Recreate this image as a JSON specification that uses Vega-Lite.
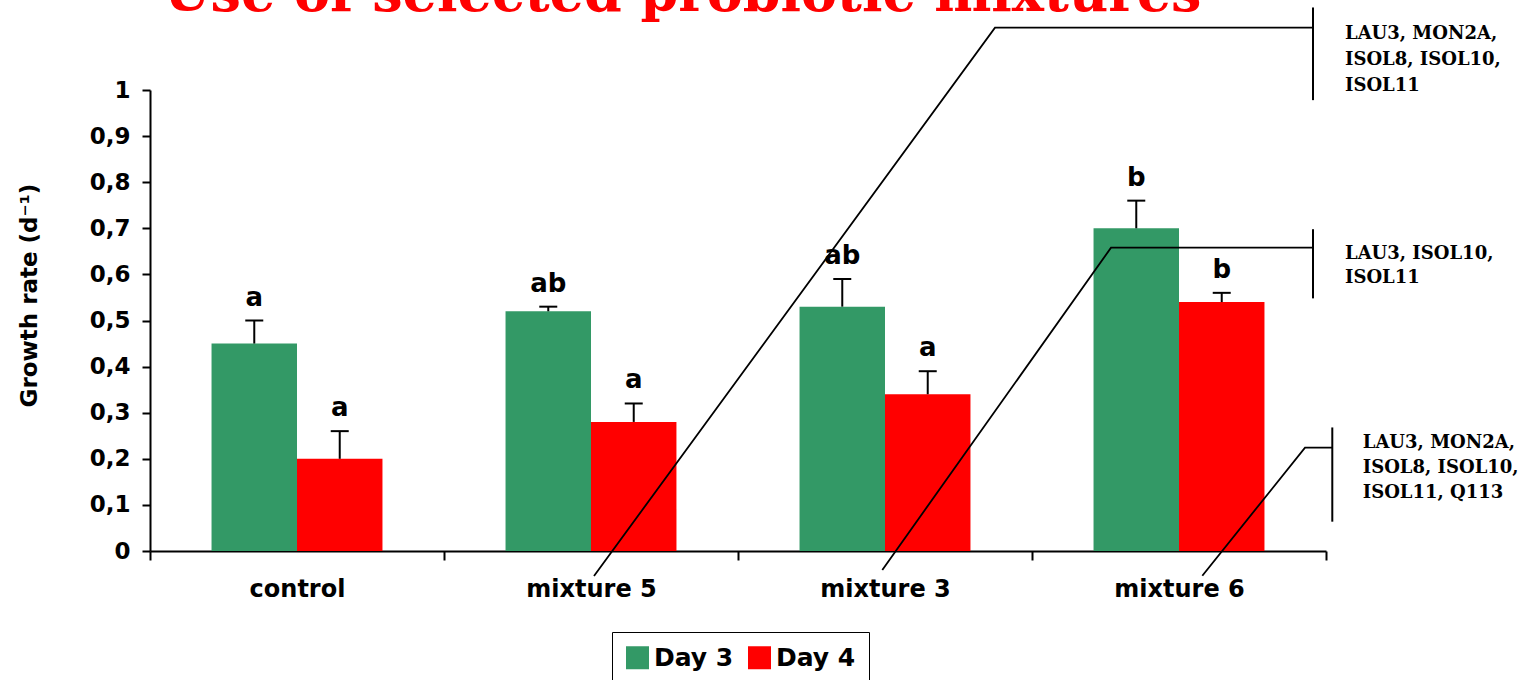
{
  "$schema": "https://vega.github.io/schema/vega-lite/v6.json",
  "width": 1176,
  "height": 461,
  "autosize": {"type": "none"},
  "padding": {"left": 150, "top": 90, "right": 198, "bottom": 129},
  "background": "white",
  "config": {"view": {"stroke": null}, "axis": {"grid": false}},
  "datasets": {
    "bars": [
      {"group": "control", "day": "Day 3", "value": 0.45, "err": 0.50, "letter": "a"},
      {"group": "control", "day": "Day 4", "value": 0.20, "err": 0.26, "letter": "a"},
      {"group": "mixture 5", "day": "Day 3", "value": 0.52, "err": 0.53, "letter": "ab"},
      {"group": "mixture 5", "day": "Day 4", "value": 0.28, "err": 0.32, "letter": "a"},
      {"group": "mixture 3", "day": "Day 3", "value": 0.53, "err": 0.59, "letter": "ab"},
      {"group": "mixture 3", "day": "Day 4", "value": 0.34, "err": 0.39, "letter": "a"},
      {"group": "mixture 6", "day": "Day 3", "value": 0.70, "err": 0.76, "letter": "b"},
      {"group": "mixture 6", "day": "Day 4", "value": 0.54, "err": 0.56, "letter": "b"}
    ],
    "callouts": [
      {"id": "L1", "seq": 1, "px": 1.5102, "py": -0.0542},
      {"id": "L1", "seq": 2, "px": 2.8741, "py": 1.1351},
      {"id": "L1", "seq": 3, "px": 3.9558, "py": 1.1351},
      {"id": "L2", "seq": 1, "px": 2.4908, "py": -0.0412},
      {"id": "L2", "seq": 2, "px": 3.2687, "py": 0.6579},
      {"id": "L2", "seq": 3, "px": 3.9558, "py": 0.6579},
      {"id": "L3", "seq": 1, "px": 3.5793, "py": -0.0536},
      {"id": "L3", "seq": 2, "px": 3.9286, "py": 0.2241},
      {"id": "L3", "seq": 3, "px": 4.0214, "py": 0.2241}
    ],
    "vbars": [
      {"px": 3.9558, "py": 1.179, "py2": 0.978},
      {"px": 3.9558, "py": 0.698, "py2": 0.548},
      {"px": 4.0214, "py": 0.268, "py2": 0.0636}
    ],
    "notes": [
      {"px": 4.0646, "py": 1.110, "t": "LAU3, MON2A,"},
      {"px": 4.0646, "py": 1.054, "t": "ISOL8, ISOL10,"},
      {"px": 4.0646, "py": 0.9985, "t": "ISOL11"},
      {"px": 4.0646, "py": 0.6327, "t": "LAU3, ISOL10,"},
      {"px": 4.0646, "py": 0.5807, "t": "ISOL11"},
      {"px": 4.125, "py": 0.2241, "t": "LAU3, MON2A,"},
      {"px": 4.125, "py": 0.1685, "t": "ISOL8, ISOL10,"},
      {"px": 4.125, "py": 0.1143, "t": "ISOL11, Q113"}
    ],
    "heading": [
      {"px": 1.811, "py": 1.1714, "t": "Use  of  selected  probiotic  mixtures"}
    ]
  },
  "layer": [
    {
      "layer": [
        {
          "data": {"name": "bars"},
          "mark": {"type": "bar"},
          "encoding": {
            "x": {
              "field": "group", "type": "nominal",
              "sort": ["control", "mixture 5", "mixture 3", "mixture 6"],
              "scale": {"paddingInner": 0, "paddingOuter": 0},
              "axis": {
                "title": null, "labelAngle": 0,
                "labelFont": "DejaVu Sans", "labelFontWeight": "bold", "labelFontSize": 24, "labelColor": "black",
                "labelPadding": 17, "tickSize": 9, "tickWidth": 2, "tickColor": "black",
                "domainColor": "black", "domainWidth": 2, "tickBand": "extent"
              }
            },
            "xOffset": {"field": "day", "type": "nominal", "sort": ["Day 3", "Day 4"], "scale": {"paddingOuter": 0.72, "paddingInner": 0}},
            "y": {
              "field": "value", "type": "quantitative", "title": "Growth rate (d⁻¹)",
              "scale": {"domain": [0, 1], "nice": false},
              "axis": {
                "values": [0, 0.1, 0.2, 0.3, 0.4, 0.5, 0.6, 0.7, 0.8, 0.9, 1],
                "labelExpr": "replace(format(datum.value, '.1~f'), '.', ',')",
                "labelFont": "DejaVu Sans", "labelFontWeight": "bold", "labelFontSize": 23, "labelColor": "black",
                "labelPadding": 12, "tickSize": 8, "tickWidth": 2, "tickColor": "black",
                "domainColor": "black", "domainWidth": 2,
                "titleFont": "DejaVu Sans", "titleFontWeight": "bold", "titleFontSize": 23, "titleColor": "black",
                "titleAngle": -90, "titleX": -121, "titleY": 317, "titleAlign": "left", "titleBaseline": "middle"
              }
            },
            "color": {
              "field": "day", "type": "nominal",
              "scale": {"domain": ["Day 3", "Day 4"], "range": ["#339966", "#FF0000"]},
              "legend": {
                "orient": "none", "legendX": 462, "legendY": 542, "direction": "horizontal", "title": null,
                "symbolType": "square", "symbolSize": 529, "symbolStrokeWidth": 0,
                "labelFont": "DejaVu Sans", "labelFontWeight": "bold", "labelFontSize": 25, "labelColor": "black",
                "labelOffset": 4, "columnPadding": 13, "padding": 13,
                "strokeColor": "black", "fillColor": "white"
              }
            }
          }
        },
        {
          "data": {"name": "bars"},
          "mark": {"type": "rule", "color": "black", "strokeWidth": 2},
          "encoding": {
            "x": {"field": "group", "type": "nominal", "sort": ["control", "mixture 5", "mixture 3", "mixture 6"]},
            "xOffset": {"field": "day", "type": "nominal", "sort": ["Day 3", "Day 4"]},
            "y": {"field": "value", "type": "quantitative", "title": "Growth rate (d⁻¹)", "scale": {"domain": [0, 1], "nice": false}},
            "y2": {"field": "err"}
          }
        },
        {
          "data": {"name": "bars"},
          "mark": {"type": "tick", "color": "black", "size": 18, "thickness": 2, "opacity": 1, "orient": "horizontal"},
          "encoding": {
            "x": {"field": "group", "type": "nominal", "sort": ["control", "mixture 5", "mixture 3", "mixture 6"]},
            "xOffset": {"field": "day", "type": "nominal", "sort": ["Day 3", "Day 4"]},
            "y": {"field": "err", "type": "quantitative", "title": "Growth rate (d⁻¹)", "scale": {"domain": [0, 1], "nice": false}}
          }
        },
        {
          "data": {"name": "bars"},
          "mark": {"type": "text", "font": "DejaVu Sans", "fontWeight": "bold", "fontSize": 26, "baseline": "alphabetic", "dy": -15, "color": "black"},
          "encoding": {
            "x": {"field": "group", "type": "nominal", "sort": ["control", "mixture 5", "mixture 3", "mixture 6"]},
            "xOffset": {"field": "day", "type": "nominal", "sort": ["Day 3", "Day 4"]},
            "y": {"field": "err", "type": "quantitative", "title": "Growth rate (d⁻¹)", "scale": {"domain": [0, 1], "nice": false}},
            "text": {"field": "letter"}
          }
        }
      ]
    },
    {
      "layer": [
        {
          "data": {"name": "callouts"},
          "mark": {"type": "line", "color": "black", "strokeWidth": 1.8},
          "encoding": {
            "x": {"field": "px", "type": "quantitative", "scale": {"domain": [0, 4], "nice": false, "zero": false}, "axis": null},
            "y": {"field": "py", "type": "quantitative", "title": "Growth rate (d⁻¹)", "scale": {"domain": [0, 1], "nice": false}},
            "detail": {"field": "id"},
            "order": {"field": "seq"}
          }
        },
        {
          "data": {"name": "vbars"},
          "mark": {"type": "rule", "color": "black", "strokeWidth": 2},
          "encoding": {
            "x": {"field": "px", "type": "quantitative"},
            "y": {"field": "py", "type": "quantitative", "title": "Growth rate (d⁻¹)", "scale": {"domain": [0, 1], "nice": false}},
            "y2": {"field": "py2"}
          }
        },
        {
          "data": {"name": "notes"},
          "mark": {"type": "text", "font": "DejaVu Serif", "fontWeight": "bold", "fontSize": 18, "align": "left", "baseline": "alphabetic", "color": "black"},
          "encoding": {
            "x": {"field": "px", "type": "quantitative"},
            "y": {"field": "py", "type": "quantitative", "title": "Growth rate (d⁻¹)", "scale": {"domain": [0, 1], "nice": false}},
            "text": {"field": "t"}
          }
        },
        {
          "data": {"name": "heading"},
          "mark": {"type": "text", "font": "DejaVu Serif", "fontWeight": "bold", "fontSize": 54, "align": "center", "baseline": "alphabetic", "color": "#FF0000"},
          "encoding": {
            "x": {"field": "px", "type": "quantitative"},
            "y": {"field": "py", "type": "quantitative", "title": "Growth rate (d⁻¹)", "scale": {"domain": [0, 1], "nice": false}},
            "text": {"field": "t"}
          }
        }
      ]
    }
  ],
  "resolve": {"scale": {"x": "independent"}}
}
